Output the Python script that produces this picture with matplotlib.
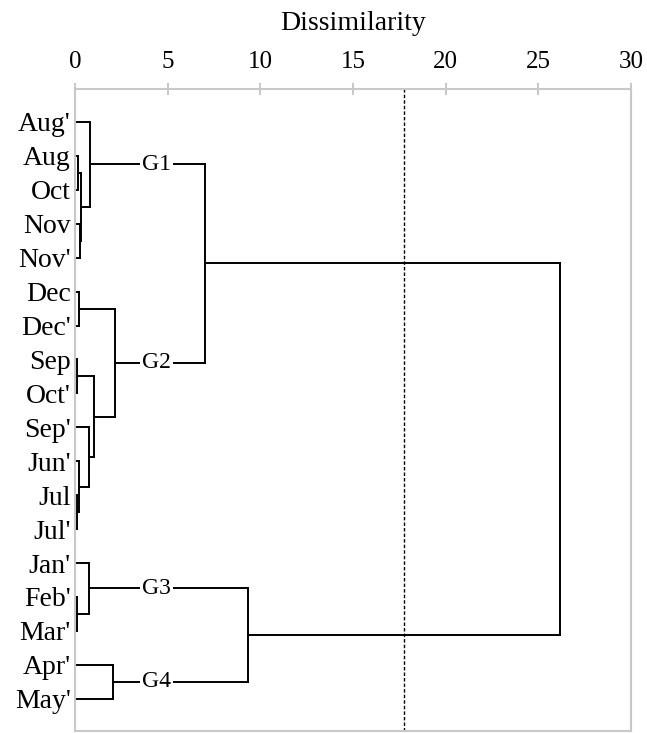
import numpy as np
import matplotlib.pyplot as plt

plt.rcParams['font.family'] = ['Liberation Serif', 'DejaVu Serif']

# Leaf labels, top to bottom
labels = ["Aug'", "Aug", "Oct", "Nov", "Nov'", "Dec", "Dec'", "Sep", "Oct'",
          "Sep'", "Jun'", "Jul", "Jul'", "Jan'", "Feb'", "Mar'", "Apr'", "May'"]

# Linkage: (left child, right child, dissimilarity); new clusters numbered from 18
merges = [
    (1, 2, 0.15),     # 18 Aug + Oct
    (3, 4, 0.25),     # 19 Nov + Nov'
    (18, 19, 0.32),   # 20
    (0, 20, 0.82),    # 21  -> G1
    (5, 6, 0.20),     # 22 Dec + Dec'
    (7, 8, 0.12),     # 23 Sep + Oct'
    (11, 12, 0.10),   # 24 Jul + Jul'
    (10, 24, 0.20),   # 25
    (9, 25, 0.77),    # 26
    (23, 26, 1.04),   # 27
    (22, 27, 2.15),   # 28  -> G2
    (14, 15, 0.10),   # 29 Feb' + Mar'
    (13, 29, 0.77),   # 30  -> G3
    (16, 17, 2.04),   # 31  -> G4
    (21, 28, 7.02),   # 32
    (30, 31, 9.32),   # 33
    (32, 33, 26.17),  # 34
]

# Group labels attached to cluster ids
groups = {21: 'G1', 28: 'G2', 30: 'G3', 31: 'G4'}
group_label_x = 4.4

cut_level = 17.73

n = len(labels)
pos = {i: float(i) for i in range(n)}
height = {i: 0.0 for i in range(n)}
for k, (a, b, h) in enumerate(merges):
    pos[n + k] = (pos[a] + pos[b]) / 2
    height[n + k] = h

fig = plt.figure(figsize=(6.47, 7.33), dpi=100)
ax = fig.add_axes([75 / 647, 2 / 733, 556 / 647, 642 / 733])

lw = 1.4
for k, (a, b, h) in enumerate(merges):
    # vertical connector
    ax.plot([h, h], [pos[a], pos[b]], color='black', lw=lw, solid_capstyle='projecting')
    # horizontals from each child up to this merge
    for c in (a, b):
        ax.plot([height[c], h], [pos[c], pos[c]], color='black', lw=lw,
                solid_capstyle='projecting')

for cid, name in groups.items():
    ax.text(group_label_x, pos[cid], name, ha='center', va='center', fontsize=17,
            bbox=dict(facecolor='white', edgecolor='none', pad=1.5), zorder=5)

ax.axvline(cut_level, color='black', lw=1.0, ls=(0, (2.5, 1.5)))

ax.set_xlim(0, 30)
ax.set_ylim(17.95, -0.97)
ax.set_xticks(np.arange(0, 31, 5))
ax.set_yticks(range(n))
ax.set_yticklabels(labels)
ax.xaxis.tick_top()
ax.xaxis.set_label_position('top')
ax.set_xlabel('Dissimilarity', fontsize=20, labelpad=15)
ax.tick_params(axis='x', direction='inout', length=9, width=1.2, color='#bfbfbf',
               labelsize=18, pad=7)
ax.tick_params(axis='y', length=0, labelsize=20, pad=3)
for s in ax.spines.values():
    s.set_color('#c8c8c8')
    s.set_linewidth(1.5)

fig.savefig('out.png', dpi=100)
